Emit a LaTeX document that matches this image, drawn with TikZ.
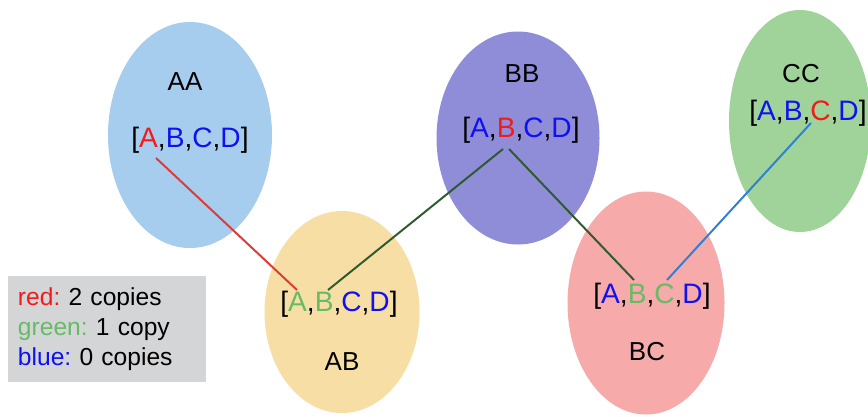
\documentclass[tikz,border=0pt]{standalone}
\usepackage{fontspec}
\setmainfont{Liberation Sans}
\usetikzlibrary{shapes.geometric}

\definecolor{cpred}{HTML}{F41A1A}
\definecolor{cpgreen}{HTML}{66BB66}
\definecolor{cpblue}{HTML}{1010F0}
\definecolor{fillAA}{HTML}{A6CCEE}
\definecolor{fillBB}{HTML}{8F8CD8}
\definecolor{fillCC}{HTML}{9FD39A}
\definecolor{fillAB}{HTML}{F7DEA5}
\definecolor{fillBC}{HTML}{F6AAAA}
\definecolor{keygray}{HTML}{D4D5D7}

% one list of the four items, each in its own colour
\newcommand{\abcd}[4]{{\fontsize{20}{24}\selectfont[\textcolor{#1}{A},\textcolor{#2}{B},\textcolor{#3}{C},\textcolor{#4}{D}]}}

\begin{document}
\frenchspacing
\begin{tikzpicture}[
  x=0.25mm, y=-0.25mm,
  font=\fontsize{18.5}{22}\selectfont,
  blob/.style={ellipse, inner sep=0pt},
  lbl/.style={inner sep=0pt, text=black},
  link/.style={line width=1.4pt}
]
\useasboundingbox (0,0) rectangle (868,416);

\node[blob, fill=fillAA, minimum width=41mm,   minimum height=56.5mm]  (aa) at (190,135) {};
\node[blob, fill=fillBB, minimum width=40.75mm, minimum height=53.25mm] (bb) at (518,138) {};
\node[blob, fill=fillCC, minimum width=35.5mm,  minimum height=55.5mm]  (cc) at (800,121) {};
\node[blob, fill=fillAB, minimum width=38.75mm, minimum height=50.5mm]  (ab) at (342,312) {};
\node[blob, fill=fillBC, minimum width=39.25mm, minimum height=55.75mm] (bc) at (646,303) {};

\node[lbl] (aaName) at (185,82)  {AA};
\node[lbl] (aaList) at (190,140) {\abcd{cpred}{cpblue}{cpblue}{cpblue}};
\node[lbl] (bbName) at (522,74)  {BB};
\node[lbl] (bbList) at (521,130) {\abcd{cpblue}{cpred}{cpblue}{cpblue}};
\node[lbl] (ccName) at (801,74)  {CC};
\node[lbl] (ccList) at (808,113) {\abcd{cpblue}{cpblue}{cpred}{cpblue}};
\node[lbl] (abList) at (339,304) {\abcd{cpgreen}{cpgreen}{cpblue}{cpblue}};
\node[lbl] (abName) at (342,362) {AB};
\node[lbl] (bcList) at (652,296) {\abcd{cpblue}{cpgreen}{cpgreen}{cpblue}};
\node[lbl] (bcName) at (647,352) {BC};

% end points under the letters
\coordinate (aaA) at (156,158);
\coordinate (abA) at (297,290);
\coordinate (abB) at (328,290);
\coordinate (bbB1) at (503,149);
\coordinate (bbB2) at (509,149);
\coordinate (bcB) at (634,280);
\coordinate (bcC) at (667,280);
\coordinate (ccC) at (811,123);

\draw[link, draw={rgb,255:red,222;green,58;blue,58}] (aaA) -- (abA);
\foreach \a/\b in {abB/bbB1, bbB2/bcB}
  \draw[link, draw={rgb,255:red,46;green,90;blue,46}] (\a) -- (\b);
\draw[link, draw={rgb,255:red,46;green,128;blue,208}] (bcC) -- (ccC);

\node[fill=keygray, minimum width=49.5mm, minimum height=26.5mm, inner xsep=2.5mm,
  text width=44.5mm, align=left, font=\fontsize{17.5}{21.3}\selectfont, text=black]
  (key) at (107,329)
  {\textcolor{cpred}{red:} 2 copies\\
   \textcolor{cpgreen}{green:} 1 copy\\
   \textcolor{cpblue}{blue:} 0 copies};

\end{tikzpicture}
\end{document}
